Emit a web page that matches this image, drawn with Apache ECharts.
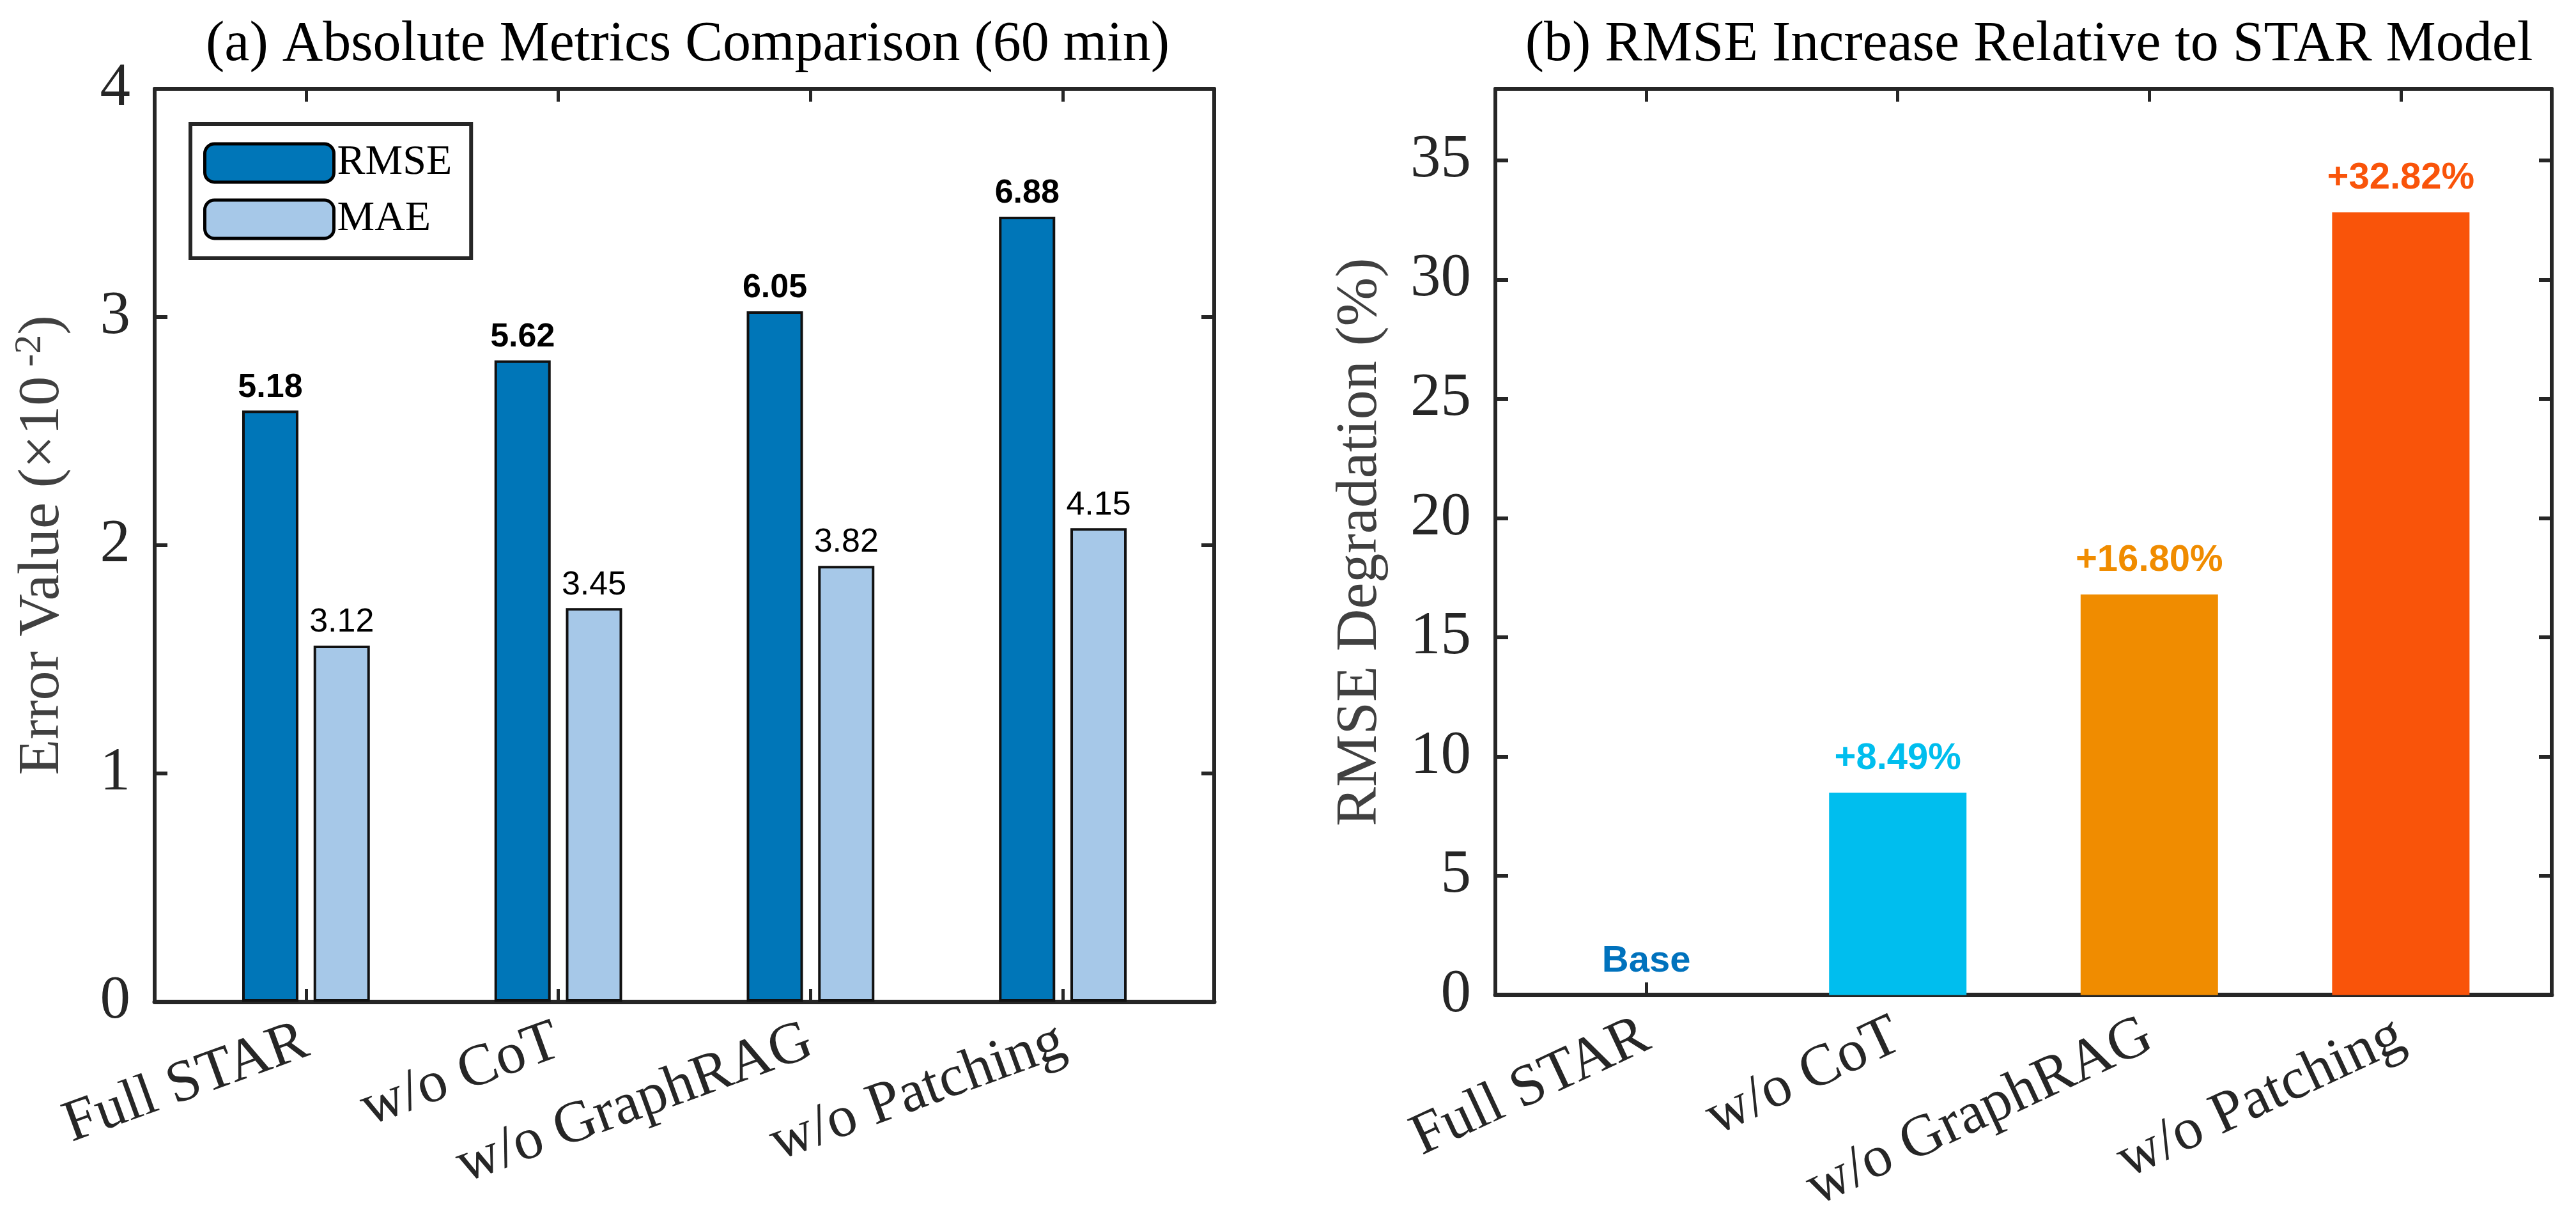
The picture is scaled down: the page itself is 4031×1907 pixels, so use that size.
<!DOCTYPE html>
<html>
<head>
<meta charset="utf-8">
<script src="https://cdn.jsdelivr.net/npm/echarts@6/dist/echarts.min.js"></script>
<style>html,body{margin:0;padding:0;background:#fff}#main{width:4031px;height:1907px}</style>
</head>
<body>
<div id="main"></div>
<script>
// categories and values
var categories = ["Full STAR", "w/o CoT", "w/o GraphRAG", "w/o Patching"];
var catPos = [1, 2, 3, 4];
var rmseLabels = ["5.18", "5.62", "6.05", "6.88"];
var maeLabels = ["3.12", "3.45", "3.82", "4.15"];
var rmseHeights = [2.59, 2.81, 3.025, 3.44];   // bar heights on the ×10^-2 axis
var maeHeights = [1.56, 1.725, 1.91, 2.075];
var degradation = [0, 8.49, 16.80, 32.82];
var degradationLabels = ["Base", "+8.49%", "+16.80%", "+32.82%"];
var degradationColors = ["#0072BD", "#00BEEE", "#F08C00", "#F9540A"];
var leftTicks = [0, 1, 2, 3, 4];
var rightTicks = [0, 5, 10, 15, 20, 25, 30, 35];

var serif = "Liberation Serif";
var ink = "#262626";

function pairs(vals){
    return vals.map(function(v, i){ return [catPos[i], v]; });
}

function xAxisFor(gridIndex, rot, show){
    return {
        type: "value", gridIndex: gridIndex, min: 0.4, max: 4.6,
        position: show ? "bottom" : "top",
        axisLine: {show: true, onZero: false, lineStyle: {color: ink, width: show ? 7 : 6}},
        axisTick: {show: true, inside: true, length: 20, customValues: catPos, lineStyle: {color: ink, width: 5}},
        axisLabel: show ? {
            show: true, customValues: catPos, rotate: rot, margin: 60,
            fontFamily: serif, fontSize: 92, color: ink,
            formatter: function(v){ return categories[Math.round(v) - 1]; }
        } : {show: false},
        splitLine: {show: false}
    };
}

function yAxisFor(gridIndex, max, ticks, show, name, gap){
    return {
        type: "value", gridIndex: gridIndex, min: 0, max: max,
        position: show ? "left" : "right",
        name: show ? name : "", nameLocation: "middle", nameGap: gap,
        nameTextStyle: {fontFamily: serif, fontSize: 92, color: "#404040",
            rich: {n: {fontFamily: serif, fontSize: 92, color: "#404040"},
                   s: {fontFamily: serif, fontSize: 60, color: "#404040", verticalAlign: "top", padding: [0, 0, 40, 0]}}},
        axisLine: {show: true, lineStyle: {color: ink, width: 6}},
        axisTick: {show: true, inside: true, length: 20, customValues: ticks, lineStyle: {color: ink, width: 6}},
        axisLabel: show ? {show: true, customValues: ticks, margin: 38, fontFamily: serif, fontSize: 95, color: ink} : {show: false},
        splitLine: {show: false}
    };
}

var chart = echarts.init(document.getElementById("main"));
var option = {
    animation: false,
    backgroundColor: "#fff",
    title: [
        {text: "(a) Absolute Metrics Comparison (60 min)", left: 1071, top: 22, textAlign: "center",
         textStyle: {fontFamily: serif, fontWeight: "normal", fontSize: 88, color: "#000"}},
        {text: "(b) RMSE Increase Relative to STAR Model", left: 3170, top: 22, textAlign: "center",
         textStyle: {fontFamily: serif, fontWeight: "normal", fontSize: 88, color: "#000"}}
    ],
    legend: {
        left: 298, top: 194, orient: "vertical",
        data: ["RMSE", "MAE"],
        itemWidth: 202, itemHeight: 60, itemGap: 22, padding: [28, 30, 28, 20],
        borderColor: ink, borderWidth: 6, backgroundColor: "#fff",
        textStyle: {fontFamily: serif, fontSize: 66, color: "#000"},
        itemStyle: {borderColor: "#000", borderWidth: 5}
    },
    grid: [
        {left: 242, top: 139, width: 1658, height: 1428},
        {left: 2340, top: 139, width: 1653, height: 1428}
    ],
    xAxis: [xAxisFor(0, 20, true), xAxisFor(0, 0, false), xAxisFor(1, 25, true), xAxisFor(1, 0, false)],
    yAxis: [
        yAxisFor(0, 4, leftTicks, true, "{n|Error Value (×10}{s| -2}{n|)}", 125),
        yAxisFor(0, 4, leftTicks, false),
        yAxisFor(1, 38, rightTicks, true, "RMSE Degradation (%)", 165),
        yAxisFor(1, 38, rightTicks, false)
    ],
    series: [
        {
            name: "RMSE", type: "bar", xAxisIndex: 0, yAxisIndex: 0,
            data: pairs(rmseHeights), barWidth: 88, barGap: "27%",
            itemStyle: {color: "#0076B8", borderColor: "#111", borderWidth: 4},
            label: {show: true, position: "top", distance: 10, fontFamily: "Liberation Sans", fontWeight: "bold",
                fontSize: 52, color: "#000", formatter: function(p){ return rmseLabels[p.dataIndex]; }}
        },
        {
            name: "MAE", type: "bar", xAxisIndex: 0, yAxisIndex: 0,
            data: pairs(maeHeights), barWidth: 88, barGap: "27%",
            itemStyle: {color: "#A6C8E8", borderColor: "#111", borderWidth: 4},
            label: {show: true, position: "top", distance: 10, fontFamily: "Liberation Sans",
                fontSize: 52, color: "#000", formatter: function(p){ return maeLabels[p.dataIndex]; }}
        },
        {
            name: "Degradation", type: "bar", xAxisIndex: 2, yAxisIndex: 2,
            barWidth: 215,
            data: degradation.map(function(v, i){
                return {value: [catPos[i], v], itemStyle: {color: degradationColors[i]},
                        label: {color: degradationColors[i]}};
            }),
            label: {show: true, position: "top", distance: 24, fontFamily: "Liberation Sans Narrow, Liberation Sans",
                fontWeight: "bold", fontSize: 58, formatter: function(p){ return degradationLabels[p.dataIndex]; }}
        }
    ]
};
chart.setOption(option);
</script>
</body>
</html>
